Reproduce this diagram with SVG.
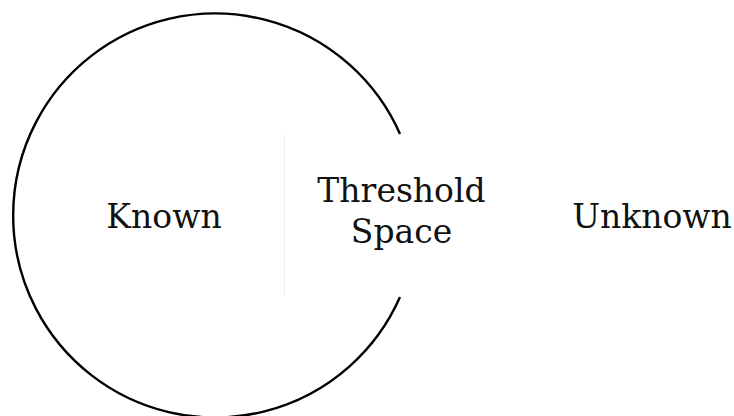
<svg xmlns="http://www.w3.org/2000/svg" width="734" height="416" viewBox="0 0 734 416">
<style>
.lbl{font-family:"DejaVu Serif","Liberation Serif",serif;font-size:33px;fill:#111;text-anchor:middle}
.arc{fill:none;stroke:#000;stroke-width:2.4}
.div{stroke:#eeeeee;stroke-width:1}
</style>
<rect width="734" height="416" fill="#fff"/>
<g id="connectors">
<path class="arc" d="M400,134 A202,202 0 1 0 400,297"/>
<line class="div" x1="284.5" y1="135" x2="284.5" y2="296"/>
</g>
<g id="known"><text class="lbl" x="164" y="228">Known</text></g>
<g id="threshold"><text class="lbl" x="401.5" y="202">Threshold</text><text class="lbl" x="401.5" y="243">Space</text></g>
<g id="unknown"><text class="lbl" x="652" y="228">Unknown</text></g>
</svg>
